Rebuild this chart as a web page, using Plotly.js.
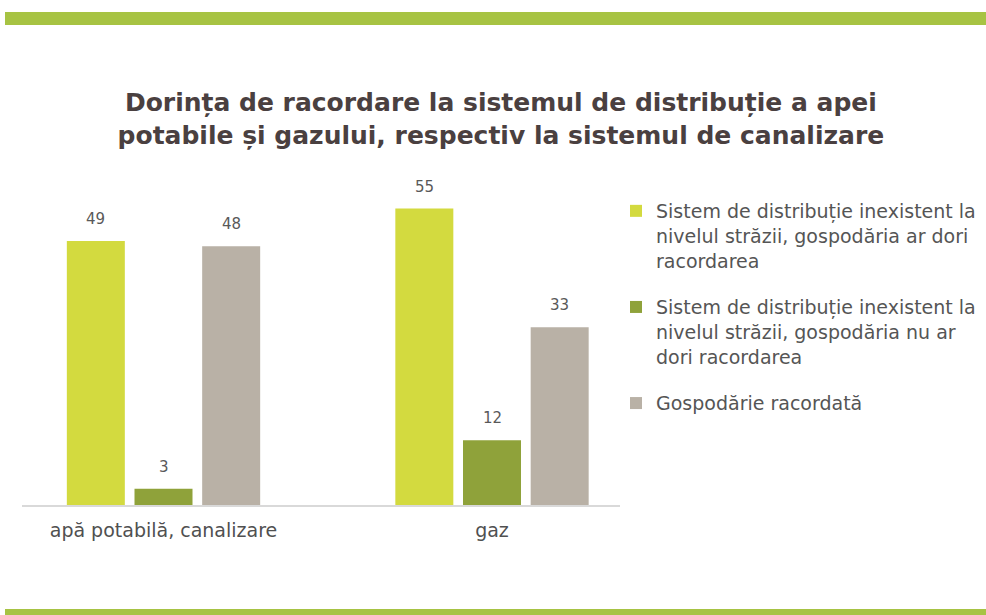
<!DOCTYPE html>
<html>
<head>
<meta charset="utf-8">
<script src="https://cdn.plot.ly/plotly-3.0.1.min.js"></script>
<style>
  html, body { margin: 0; padding: 0; background: #ffffff; }
  #chart { width: 986px; height: 615px; }
</style>
</head>
<body>
<div id="chart"></div>
<script>
// ---- data ----
const categories = ["apă potabilă, canalizare", "gaz"];
const seriesNames = [
  "Sistem de distribuție inexistent la<br>nivelul străzii, gospodăria ar dori<br>racordarea",
  "Sistem de distribuție inexistent la<br>nivelul străzii, gospodăria nu ar<br>dori racordarea",
  "Gospodărie racordată"
];
const wantConnection = [49, 55];
const noConnection = [3, 12];
const connected = [48, 33];
const seriesValues = [wantConnection, noConnection, connected];
const seriesColors = ["#d3da3f", "#8fa23a", "#b9b1a6"];
const titleText = "Dorința de racordare la sistemul de distribuție a apei<br>potabile și gazului, respectiv la sistemul de canalizare";

// ---- layout geometry (pixels) ----
const W = 986, H = 615;
const plotL = 22, plotR = 620, plotT = 190, plotB = 505;
const bargap = 0.382, bargroupgap = 0.143;
const slot = (1 - bargap) / seriesValues.length;

function px2x(px) { return (px - plotL) / (plotR - plotL); }
function px2y(py) { return (plotB - py) / (plotB - plotT); }

const traces = seriesValues.map((vals, i) => ({
  type: "bar",
  name: seriesNames[i],
  x: categories,
  y: vals,
  marker: { color: seriesColors[i] },
  legendgroup: "g" + i,
  hoverinfo: "skip"
}));

const annotations = [];
seriesValues.forEach((vals, i) => {
  vals.forEach((v, j) => {
    annotations.push({
      x: j + (i - (seriesValues.length - 1) / 2) * slot,
      y: v,
      xref: "x", yref: "y",
      text: String(v),
      showarrow: false,
      yanchor: "bottom",
      yshift: 11,
      font: { family: "DejaVu Sans", size: 15, color: "#595959" }
    });
  });
});

const layout = {
  width: W, height: H,
  paper_bgcolor: "#ffffff",
  plot_bgcolor: "rgba(0,0,0,0)",
  margin: { l: plotL, r: W - plotR, t: plotT, b: H - plotB, pad: 0, autoexpand: false },
  title: {
    text: titleText,
    xref: "container", x: 0.508, xanchor: "center",
    yref: "container", y: 1 - 111 / H, yanchor: "top",
    font: { family: "DejaVu Sans", size: 25, color: "#4a4040", weight: "bold" }
  },
  barmode: "group",
  bargap: bargap,
  bargroupgap: bargroupgap,
  xaxis: {
    type: "category",
    range: [-(163.5 - plotL) / 328.5, 1 + (plotR - 492) / 328.5],
    showline: true, linecolor: "#d9d9d9", linewidth: 1.5,
    showgrid: false, zeroline: false, ticks: "",
    tickfont: { family: "DejaVu Sans", size: 19, color: "#505050" },
    ticklabelstandoff: 8,
    automargin: false,
    fixedrange: true
  },
  yaxis: {
    range: [0, (plotB - plotT) / 5.39],
    visible: false, showgrid: false, zeroline: false,
    automargin: false,
    fixedrange: true
  },
  showlegend: true,
  legend: {
    x: px2x(616), xanchor: "left",
    y: px2y(192), yanchor: "top",
    font: { family: "DejaVu Sans", size: 19, color: "#555555" },
    valign: "top",
    tracegroupgap: 19,
    traceorder: "grouped",
    bgcolor: "rgba(0,0,0,0)"
  },
  annotations: annotations,
  shapes: [
    { type: "rect", xref: "paper", yref: "paper", layer: "below",
      x0: px2x(5), x1: px2x(986), y0: px2y(12), y1: px2y(25),
      fillcolor: "#a7c343", line: { width: 0 } },
    { type: "rect", xref: "paper", yref: "paper", layer: "below",
      x0: px2x(5), x1: px2x(986), y0: px2y(609), y1: px2y(616),
      fillcolor: "#a7c343", line: { width: 0 } }
  ]
};

Plotly.newPlot("chart", traces, layout, { displayModeBar: false, staticPlot: true });
</script>
</body>
</html>
